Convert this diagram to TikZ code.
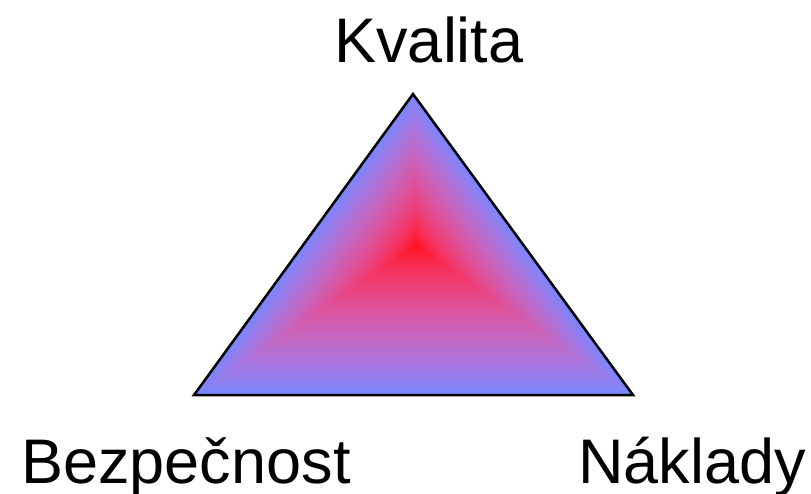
\documentclass[tikz,border=0pt]{standalone}
\usepackage{fontspec}
\setmainfont{Liberation Sans}
\usetikzlibrary{calc}
\tikzset{
  lbl/.style={anchor=base, inner sep=0pt, font=\fontsize{63}{70}\selectfont},
  outline/.style={draw=black, line width=2.5pt, line join=miter}
}
\begin{document}
\begin{tikzpicture}[x=1pt,y=-1pt]
\useasboundingbox (0,0) rectangle (811,493);
\coordinate (T) at (413,94);
\coordinate (L) at (194,395);
\coordinate (R) at (633,395);
\coordinate (C) at (416,246);
\foreach \i in {0,...,119}{
  \pgfmathsetmacro\s{1-\i/120}
  \pgfmathsetmacro\t{\s^1.3}
  \pgfmathtruncatemacro\cr{255*((1-\t)*1.0 + \t*0.190)^(1/2.2)}
  \pgfmathtruncatemacro\cg{255*((1-\t)*0.0037 + \t*0.247)^(1/2.2)}
  \pgfmathtruncatemacro\cb{255*((1-\t)*0.0091 + \t*1.0)^(1/2.2)}
  \definecolor{cc}{RGB}{\cr,\cg,\cb}
  \fill[cc] ($(C)!\s!(T)$) -- ($(C)!\s!(L)$) -- ($(C)!\s!(R)$) -- cycle;
}
\draw[outline] (T) -- (L) -- (R) -- cycle;
\node[lbl] (kv) at (429,62) {Kvalita};
\node[lbl] (bz) at (186,483) {Bezpečnost};
\node[lbl] (nk) at (692,483) {Náklady};
\end{tikzpicture}
\end{document}
